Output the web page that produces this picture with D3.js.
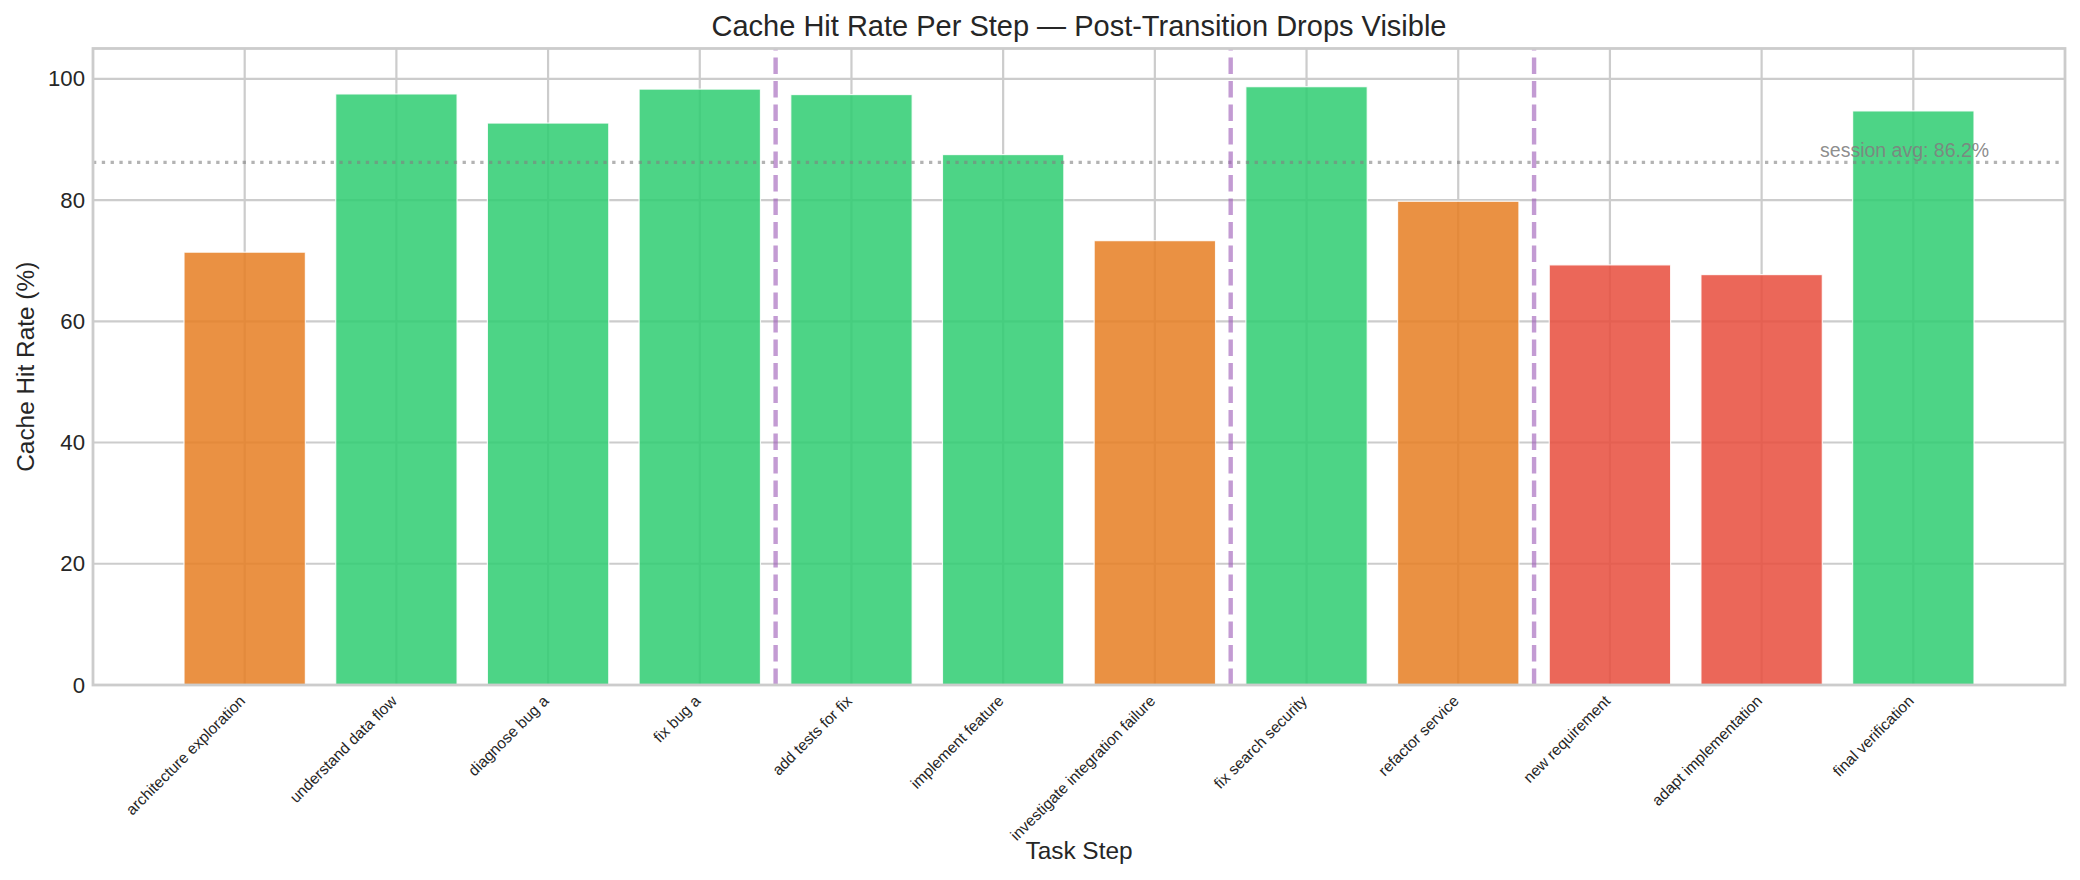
<!DOCTYPE html>
<html>
<head>
<meta charset="utf-8">
<script src="https://cdn.jsdelivr.net/npm/d3@7"></script>
<style>
  body { margin: 0; background: #fff; }
  text { font-family: "Liberation Sans", Arial, sans-serif; fill: #262626; }
</style>
</head>
<body>
<svg id="chart" width="2080" height="880"></svg>
<script>
// data
const steps = [
  "architecture exploration", "understand data flow", "diagnose bug a", "fix bug a",
  "add tests for fix", "implement feature", "investigate integration failure",
  "fix search security", "refactor service", "new requirement",
  "adapt implementation", "final verification"
];
const hitRates = [71.4, 97.5, 92.7, 98.3, 97.4, 87.5, 73.3, 98.7, 79.8, 69.3, 67.7, 94.7];
const transitions = [3.5, 6.5, 8.5]; // between steps where the task changed
const sessionAvg = 86.2;
const yTicks = [0, 20, 40, 60, 80, 100];

// colour by hit rate band
function barColor(v) {
  if (v >= 85) return "#2ecc71";
  if (v >= 70) return "#e67e22";
  return "#e74c3c";
}

const svg = d3.select("#chart");
const margin = { top: 48.5, right: 15, bottom: 195, left: 93 };
const width = 2080 - margin.left - margin.right;
const height = 880 - margin.top - margin.bottom;

const g = svg.append("g")
  .attr("transform", "translate(" + margin.left + "," + margin.top + ")");

const x = d3.scaleLinear().domain([-1, 12]).range([0, width]);
const y = d3.scaleLinear().domain([0, 105]).range([height, 0]);
const barW = x(0.8) - x(0);

// grid (below bars)
g.append("g").selectAll("line")
  .data(yTicks)
  .enter().append("line")
  .attr("x1", 0).attr("x2", width)
  .attr("y1", d => y(d)).attr("y2", d => y(d))
  .attr("stroke", "#cccccc").attr("stroke-width", 2.2);

g.append("g").selectAll("line")
  .data(d3.range(steps.length))
  .enter().append("line")
  .attr("x1", d => x(d)).attr("x2", d => x(d))
  .attr("y1", 0).attr("y2", height)
  .attr("stroke", "#cccccc").attr("stroke-width", 2.2);

// bars
g.selectAll(".bar")
  .data(hitRates)
  .enter().append("rect")
  .attr("class", "bar")
  .attr("x", (d, i) => x(i - 0.4))
  .attr("y", d => y(d))
  .attr("width", barW)
  .attr("height", d => height - y(d))
  .attr("fill", d => barColor(d))
  .attr("fill-opacity", 0.85)
  .attr("stroke", "#fff")
  .attr("stroke-width", 1.2)
  .attr("stroke-opacity", 0.85);

// session average
g.append("line")
  .attr("x1", 0).attr("x2", width)
  .attr("y1", y(sessionAvg)).attr("y2", y(sessionAvg))
  .attr("stroke", "#808080").attr("stroke-opacity", 0.6)
  .attr("stroke-width", 3.3)
  .attr("stroke-dasharray", "3.3,5.5");

// task transitions (drawn bottom to top like matplotlib)
g.append("g").selectAll("line")
  .data(transitions)
  .enter().append("line")
  .attr("x1", d => x(d)).attr("x2", d => x(d))
  .attr("y1", height).attr("y2", 0)
  .attr("stroke", "#9b59b6").attr("stroke-opacity", 0.6)
  .attr("stroke-width", 4.4)
  .attr("stroke-dasharray", "16.4,7.1");

g.append("text")
  .attr("x", x(steps.length - 0.5))
  .attr("y", y(sessionAvg) - 5)
  .attr("text-anchor", "end")
  .style("font-size", "19.5px")
  .style("fill", "#808080")
  .style("fill-opacity", 0.9)
  .text("session avg: " + sessionAvg + "%");

// axes
const yAxis = g.append("g")
  .call(d3.axisLeft(y).tickValues(yTicks).tickSize(0).tickPadding(8));
yAxis.select(".domain").remove();
yAxis.selectAll("text")
  .style("font-size", "22.2px")
  .style("font-family", "\"Liberation Sans\", Arial, sans-serif")
  .style("fill", "#262626");

const xAxis = g.append("g")
  .attr("transform", "translate(0," + height + ")")
  .call(d3.axisBottom(x).tickValues(d3.range(steps.length)).tickFormat(i => steps[i]).tickSize(0));
xAxis.select(".domain").remove();
xAxis.selectAll("text")
  .attr("x", 0).attr("y", 0).attr("dy", null)
  .attr("transform", "translate(1,17) rotate(-45)")
  .style("text-anchor", "end")
  .style("font-size", "15.5px")
  .style("font-family", "\"Liberation Sans\", Arial, sans-serif")
  .style("fill", "#262626");

// spines
g.append("rect")
  .attr("width", width).attr("height", height)
  .attr("fill", "none")
  .attr("stroke", "#cccccc").attr("stroke-width", 2.8);

// labels
svg.append("text")
  .attr("x", margin.left + width / 2).attr("y", 36)
  .attr("text-anchor", "middle")
  .style("font-size", "29px")
  .text("Cache Hit Rate Per Step \u2014 Post-Transition Drops Visible");

svg.append("text")
  .attr("x", margin.left + width / 2).attr("y", 859)
  .attr("text-anchor", "middle")
  .style("font-size", "24.4px")
  .text("Task Step");

svg.append("text")
  .attr("transform", "translate(33.5," + (margin.top + height / 2) + ") rotate(-90)")
  .attr("text-anchor", "middle")
  .style("font-size", "24.4px")
  .text("Cache Hit Rate (%)");
</script>
</body>
</html>
